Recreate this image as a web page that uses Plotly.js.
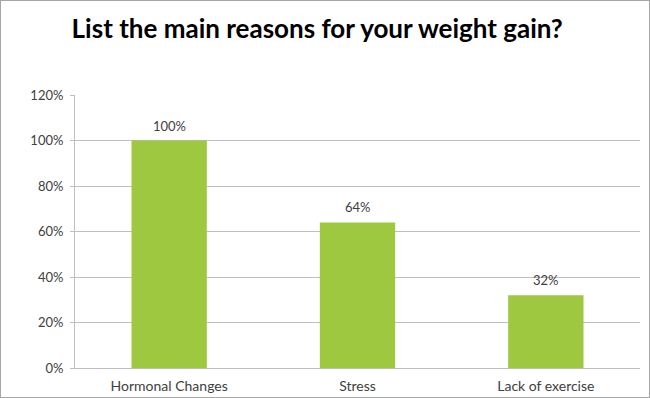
<!DOCTYPE html>
<html>
<head>
<meta charset="utf-8">
<script src="https://cdn.plot.ly/plotly-3.0.1.min.js"></script>
<style>
html,body{margin:0;padding:0;background:#fff;}
#wrap{position:relative;width:648px;height:396px;border:1px solid #a6a6a6;}
#chart{width:648px;height:396px;}
</style>
</head>
<body>
<div id="wrap"><div id="chart"></div></div>
<script>
const categories = ["Hormonal Changes", "Stress", "Lack of exercise"];
const values = [1.00, 0.64, 0.32];
const labels = ["100%", "64%", "32%"];
const titleText = "List the main reasons for your weight gain?";

const fontFam = "'Lato', 'Open Sans', sans-serif";
const annotations = categories.map((c, i) => ({
  x: c, y: values[i], xref: 'x', yref: 'y', text: labels[i], showarrow: false,
  yanchor: 'bottom', yshift: 5, font: {family: fontFam, size: 13, color: '#404040'}
}));
Plotly.newPlot('chart', [{
  type: 'bar',
  x: categories,
  y: values,
  marker: {color: '#9DC83F'},
  width: 0.4,
  hoverinfo: 'none'
}], {
  width: 648, height: 396,
  margin: {l: 74, r: 9, t: 94, b: 29},
  paper_bgcolor: '#fff', plot_bgcolor: '#fff',
  title: {text: '<b>' + titleText + '</b>', x: 0.488, xanchor: 'center', y: 0.93, yanchor: 'middle',
          font: {family: fontFam, size: 26, color: '#000'}},
  xaxis: {showgrid: false, showline: true, linecolor: '#bfbfbf', ticks: '', ticklabelstandoff: 5,
          tickfont: {family: fontFam, size: 14, color: '#404040'}},
  yaxis: {range: [0, 1.2], dtick: 0.2, tickformat: '.0%', showgrid: true, gridcolor: '#bfbfbf',
          showline: true, linecolor: '#bfbfbf', ticks: 'outside', ticklen: 4, tickcolor: '#bfbfbf',
          ticklabelstandoff: 4,
          zeroline: false, tickfont: {family: fontFam, size: 13, color: '#404040'}},
  annotations: annotations,
  showlegend: false
}, {staticPlot: true});
</script>
</body>
</html>
